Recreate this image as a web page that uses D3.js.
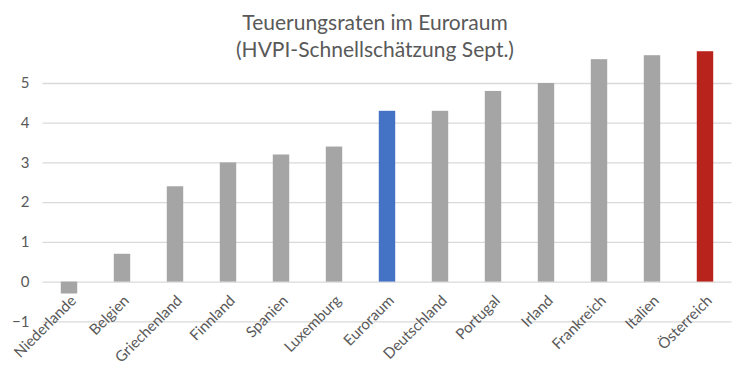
<!DOCTYPE html>
<html><head><meta charset="utf-8">
<script src="https://cdn.jsdelivr.net/npm/d3@7"></script>
<style>
html,body{margin:0;padding:0;background:#fff;}
svg{display:block;}
text{font-family:"Lato","Open Sans",sans-serif;fill:#595959;}
</style></head>
<body>
<svg id="c" width="750" height="369"></svg>
<script>
const categories = ["Niederlande","Belgien","Griechenland","Finnland","Spanien","Luxemburg","Euroraum","Deutschland","Portugal","Irland","Frankreich","Italien","Österreich"];
const values = [-0.3,0.7,2.4,3.0,3.2,3.4,4.3,4.3,4.8,5.0,5.6,5.7,5.8];
const yTicks = [-1,0,1,2,3,4,5];
const titleLines = ["Teuerungsraten im Euroraum","(HVPI-Schnellschätzung Sept.)"];
const highlight = {"Euroraum":"#4472c4","Österreich":"#b8241b"};
const baseColor = "#a5a5a5";

const svg = d3.select("#c");
const x = d3.scaleBand().domain(categories).range([42.5,731.5]).paddingInner(0.69).paddingOuter(0.345);
const y = d3.scaleLinear().domain([-1,5]).range([321.3,83]);

svg.append("g").selectAll("text").data(titleLines).join("text")
  .attr("x",375).attr("y",(d,i)=>30+i*27).attr("text-anchor","middle")
  .style("font-size","21px").text(d=>d);

const grid = svg.append("g").call(d3.axisLeft(y).tickValues(yTicks).tickSize(-(731.5-42.5)).tickFormat(d3.format("d")))
  .attr("transform","translate(42.5,0)");
grid.select(".domain").remove();
grid.selectAll(".tick line").attr("stroke","#d9d9d9").attr("stroke-width",1.3);
grid.selectAll(".tick text").attr("x",-13).style("font-size","15px").attr("fill","#595959");

svg.append("g").selectAll("rect").data(categories).join("rect")
  .attr("x",d=>x(d)).attr("width",x.bandwidth())
  .attr("y",(d,i)=>y(Math.max(0,values[i])))
  .attr("height",(d,i)=>Math.abs(y(values[i])-y(0)))
  .attr("fill",d=>highlight[d]||baseColor);

svg.append("g").selectAll("text").data(categories).join("text")
  .attr("text-anchor","end")
  .attr("transform",d=>`translate(${x(d)+x.bandwidth()/2+8},${y(0)+20}) rotate(-45)`)
  .style("font-size","15px").text(d=>d);
</script>
</body></html>
